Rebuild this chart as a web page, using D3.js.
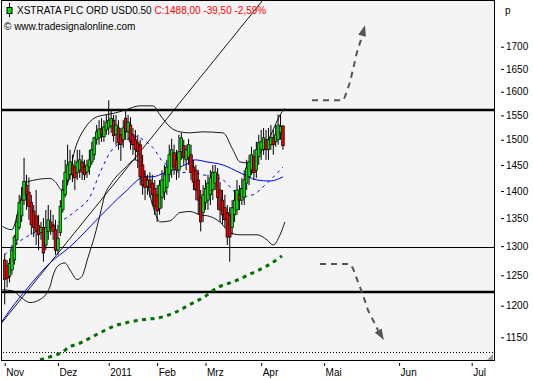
<!DOCTYPE html>
<html>
<head>
<meta charset="utf-8">
<title>XSTRATA PLC</title>
<script src="https://cdn.jsdelivr.net/npm/d3@7"></script>
<style>
body { margin: 0; background: #fff; }
svg { display: block; font-family: "Liberation Sans", Arial, sans-serif; font-size: 10px; }
</style>
</head>
<body>
<script>
// daily candles, index 0 = 1 Nov 2010 (trading days)
var opens = [
  1276,1266,1248,1259,1276,1311,1333,1354,1383,1411,
  1398,1379,1363,1354,1337,1324,1333,1302,1326,1343,
  1337,1329,1293,1324,1365,1393,1421,1431,1450,1446,
  1435,1440,1456,1446,1436,1446,1456,1470,1500,1504,
  1522,1506,1520,1524,1528,1540,1510,1524,1510,1500,
  1544,1516,1530,1510,1500,1494,1490,1450,1427,1409,
  1421,1415,1405,1393,1367,1388,1398,1407,1431,1440,
  1474,1460,1440,1476,1488,1460,1464,1470,1446,1440,
  1421,1388,1360,1378,1383,1393,1402,1415,1431,1402,
  1383,1369,1360,1356,1333,1356,1365,1393,1383,1388,
  1415,1427,1440,1466,1440,1466,1480,1480,1500,1480,
  1490,1504,1496,1500,1514,1528];
var highs = [
  1287,1276,1279,1302,1320,1356,1393,1408,1464,1431,
  1426,1393,1374,1402,1356,1343,1350,1365,1374,1365,
  1356,1347,1338,1383,1421,1460,1490,1480,1470,1460,
  1480,1480,1470,1460,1460,1480,1496,1506,1530,1540,
  1544,1540,1551,1582,1561,1551,1551,1540,1524,1540,
  1561,1551,1546,1524,1520,1510,1500,1470,1440,1431,
  1436,1431,1421,1411,1421,1440,1450,1460,1490,1502,
  1490,1480,1510,1514,1500,1490,1502,1490,1460,1450,
  1440,1402,1411,1421,1431,1440,1450,1450,1444,1417,
  1402,1393,1374,1370,1383,1402,1421,1411,1425,1440,
  1460,1470,1486,1480,1496,1510,1520,1524,1520,1524,
  1530,1520,1530,1552,1552,1530];
var lows = [
  1202,1230,1238,1251,1268,1302,1329,1343,1374,1365,
  1347,1320,1316,1302,1293,1311,1273,1293,1311,1320,
  1311,1285,1285,1318,1360,1388,1411,1421,1417,1402,
  1421,1425,1421,1421,1425,1431,1450,1460,1490,1490,
  1496,1496,1510,1510,1514,1496,1490,1480,1458,1484,
  1500,1500,1480,1470,1460,1444,1411,1393,1383,1393,
  1388,1374,1356,1343,1356,1368,1383,1393,1417,1425,
  1431,1421,1425,1460,1450,1440,1450,1421,1402,1383,
  1356,1326,1343,1365,1365,1374,1383,1402,1365,1343,
  1338,1333,1302,1273,1320,1343,1356,1365,1374,1374,
  1402,1411,1431,1421,1425,1450,1460,1470,1460,1460,
  1480,1470,1486,1490,1500,1480];
var closes = [
  1243,1245,1270,1293,1316,1343,1378,1383,1418,1393,
  1371,1338,1333,1326,1320,1333,1288,1333,1347,1333,
  1326,1293,1314,1371,1402,1436,1450,1456,1431,1425,
  1456,1460,1436,1431,1450,1460,1480,1504,1516,1522,
  1510,1526,1536,1540,1544,1508,1530,1494,1490,1524,
  1516,1536,1496,1490,1480,1476,1427,1411,1407,1421,
  1407,1393,1371,1363,1411,1421,1431,1446,1470,1480,
  1446,1440,1476,1504,1464,1480,1490,1435,1417,1402,
  1383,1343,1393,1405,1415,1425,1436,1436,1388,1365,
  1356,1347,1316,1316,1369,1383,1402,1383,1405,1421,
  1444,1456,1470,1435,1480,1494,1496,1504,1480,1500,
  1504,1490,1510,1530,1527,1488];

// indicator lines: [bar index, price]
var bbUpper = [[-1,1335],[3,1329],[5.5,1362],[8.4,1415],[12.5,1421],[18.7,1424],[20.8,1418],
  [23.7,1402],[25.7,1411],[29,1480],[33.2,1524],[37.3,1545],[41.4,1551],[45.6,1555],[49.7,1561],
  [55.9,1570],[61.3,1570],[64.2,1551],[68.3,1526],[72.4,1516],[76.6,1514],[81.5,1516],[90.2,1514],
  [94.3,1480],[97.2,1456],[100.5,1454],[104.3,1466],[109.6,1506],[113.8,1551],[115.8,1565]];
var bbLower = [[-1,1226],[3.4,1224],[6.3,1215],[10.5,1205],[14.6,1210],[18.7,1231],[20,1250],
  [22,1266],[24.9,1271],[27,1259],[29.9,1243],[31.9,1248],[34.4,1280],[37.3,1320],[39.4,1356],
  [41.4,1393],[43.5,1411],[46.8,1431],[49.7,1444],[53.8,1460],[55.9,1454],[58,1431],[60,1393],
  [62.1,1360],[64.2,1343],[68.3,1345],[72.4,1360],[76.6,1362],[80.7,1356],[84.8,1353],[88.9,1343],
  [93.1,1324],[97.2,1320],[104.3,1320],[108.4,1311],[110.9,1302],[113.8,1320],[115.8,1343]];
var bbMid = [[0,1285],[3.4,1299],[10.5,1320],[18.7,1335],[25.7,1351],[29.9,1365],[35.2,1389],
  [39.4,1435],[43.5,1474],[47.6,1494],[50.5,1500],[54.7,1506],[57.2,1500],[61.3,1484],[65.4,1456],
  [69.5,1444],[72.4,1435],[76.6,1436],[81.9,1431],[90.2,1421],[94.3,1402],[97.2,1389],[102.6,1393],
  [108.4,1415],[115,1446]];
var maLong = [[-2,1170],[2.2,1193],[10.5,1234],[18.7,1271],[27,1299],[39.4,1353],[49.7,1398],
  [58,1427],[60.9,1427],[66.2,1435],[74.5,1450],[78.6,1460],[83.6,1456],[90.2,1450],[97.2,1435],
  [104.3,1421],[109.6,1419],[115,1427]];
var ma200 = [[14.6,1116],[19.5,1121],[23.7,1127],[27,1136],[29.9,1139],[33.2,1145],[39.4,1157],
  [45.6,1168],[51.8,1174],[58,1178],[64.2,1181],[70.4,1189],[76.6,1202],[82.8,1215],[87.7,1229],
  [94.3,1239],[101.4,1252],[108.4,1266],[114.6,1283]];

var trendAnchors = [[2.2,1189],[106.7,1810]];
var levelsThick = [1561,1222];
var levelsThin = [1298];
var dottedLevel = 1128;

var arrowUp = [[127,1582],[139.8,1582],[140.6,1589],[142.7,1621],[144.3,1657],[145.6,1688],[147.2,1715],[148.9,1750]];
var arrowDown = [[130.3,1269],[142.7,1269],[143.9,1262],[146,1239],[148.1,1217],[150.1,1193],[152.6,1174],[154.3,1161],[156.7,1146]];

var monthLabels = ["Nov","Dez","2011","Feb","Mrz","Apr","Mai","Jun","Jul"];
var monthIdx = [0,22,43,63,83,106,132,163,193];
var priceTicks = [1150,1200,1250,1300,1350,1400,1450,1500,1550,1600,1650,1700];

var W = 533, H = 380;
var svg = d3.select("body").append("svg").attr("width", W).attr("height", H);

var x = d3.scaleLinear().domain([0, 193]).range([4.7, 471.7]);
var y = d3.scaleLog().domain([1150, 1700]).range([337.3, 46.7]);

svg.append("rect").attr("x", 1.5).attr("y", 0.5).attr("width", 493).attr("height", 360)
  .attr("fill", "#f4f4f4");

svg.append("clipPath").attr("id", "plot")
  .append("rect").attr("x", 2).attr("y", 1).attr("width", 492).attr("height", 359);

var g = svg.append("g").attr("clip-path", "url(#plot)");

// horizontal levels
g.selectAll(".thick").data(levelsThick).enter().append("line")
  .attr("x1", 0).attr("x2", 495)
  .attr("y1", function(d) { return Math.round(y(d)); })
  .attr("y2", function(d) { return Math.round(y(d)); })
  .attr("stroke", "#000").attr("stroke-width", 2.5);
g.selectAll(".thin").data(levelsThin).enter().append("line")
  .attr("x1", 0).attr("x2", 495)
  .attr("y1", function(d) { return Math.round(y(d)) + 0.5; })
  .attr("y2", function(d) { return Math.round(y(d)) + 0.5; })
  .attr("stroke", "#000").attr("stroke-width", 1);
g.append("line").attr("x1", 3).attr("x2", 494)
  .attr("y1", Math.round(y(dottedLevel)) + 0.5).attr("y2", Math.round(y(dottedLevel)) + 0.5)
  .attr("stroke", "#000").attr("stroke-width", 1).attr("stroke-dasharray", "1,2");

var line = d3.line().x(function(d) { return x(d[0]); }).y(function(d) { return y(d[1]); })
  .curve(d3.curveMonotoneX);

g.append("path").datum(ma200).attr("d", line).attr("fill", "none")
  .attr("stroke", "#007000").attr("stroke-width", 3).attr("stroke-dasharray", "4,4.5");
g.append("path").datum(bbUpper).attr("d", line).attr("fill", "none").attr("stroke", "#000").attr("stroke-width", 0.9);
g.append("path").datum(bbLower).attr("d", line).attr("fill", "none").attr("stroke", "#000").attr("stroke-width", 0.9);
g.append("path").datum(bbMid).attr("d", line).attr("fill", "none")
  .attr("stroke", "#0000ff").attr("stroke-width", 1).attr("stroke-dasharray", "3,4");
g.append("path").datum(maLong).attr("d", line).attr("fill", "none").attr("stroke", "#0000ff").attr("stroke-width", 1);

// trend line, extended over the plot
var a = [x(trendAnchors[0][0]), y(trendAnchors[0][1])];
var b = [x(trendAnchors[1][0]), y(trendAnchors[1][1])];
var k = (b[1] - a[1]) / (b[0] - a[0]);
g.append("line").attr("x1", 0).attr("y1", a[1] + k * (0 - a[0]))
  .attr("x2", 300).attr("y2", a[1] + k * (300 - a[0]))
  .attr("stroke", "#000").attr("stroke-width", 0.9);

// candles
var bw = 2.6;
var idx = d3.range(closes.length);
g.selectAll(".wick").data(idx).enter().append("line")
  .attr("x1", function(i) { return x(i); }).attr("x2", function(i) { return x(i); })
  .attr("y1", function(i) { return y(highs[i]); }).attr("y2", function(i) { return y(lows[i]); })
  .attr("stroke", "#000").attr("stroke-width", 1);
g.selectAll(".body").data(idx).enter().append("rect")
  .attr("x", function(i) { return x(i) - bw / 2; })
  .attr("width", bw)
  .attr("y", function(i) { return y(Math.max(opens[i], closes[i])); })
  .attr("height", function(i) { return Math.max(1, Math.abs(y(opens[i]) - y(closes[i]))); })
  .attr("fill", function(i) { return closes[i] >= opens[i] ? "#00e400" : "#ee0000"; })
  .attr("stroke", "#000").attr("stroke-width", 0.7);

// projection arrows
function arrow(pts) {
  var px = pts.map(function(d) { return [x(d[0]), y(d[1])]; });
  var tip = px[px.length - 1], prev = px[px.length - 2];
  var dx = tip[0] - prev[0], dy = tip[1] - prev[1], len = Math.sqrt(dx * dx + dy * dy);
  var ux = dx / len, uy = dy / len, L = 11, hw = 4;
  var base = [tip[0] - ux * L, tip[1] - uy * L];
  g.append("path").datum(px.slice(0, -1).concat([base]))
    .attr("d", d3.line().curve(d3.curveLinear)).attr("fill", "none")
    .attr("stroke", "#555").attr("stroke-width", 2).attr("stroke-dasharray", "6,5");
  g.append("path").attr("d", "M" + tip + "L" + [base[0] - uy * hw, base[1] + ux * hw] +
      "L" + [base[0] + uy * hw, base[1] - ux * hw] + "Z").attr("fill", "#555");
}
arrow(arrowUp);
arrow(arrowDown);

// frame
svg.append("rect").attr("x", 1.5).attr("y", 0.5).attr("width", 493).attr("height", 360)
  .attr("fill", "none").attr("stroke", "#000");

// resize grip
svg.append("path").attr("d", "M493,354L493,360L487,360Z").attr("fill", "#999");

// price axis
var ya = svg.append("g").attr("transform", "translate(501,0)")
  .call(d3.axisRight(y).tickValues(priceTicks).tickFormat(d3.format("d")).tickSize(3).tickPadding(2));
ya.select(".domain").remove();
ya.selectAll("text").attr("font-size", 10).attr("font-family", "Liberation Sans, Arial").attr("fill", "#000");
svg.append("text").attr("x", 505).attr("y", 14).text("p");

// time axis
var xa = svg.append("g").attr("transform", "translate(0,363)")
  .call(d3.axisBottom(x).tickValues(monthIdx).tickFormat(function(d, i) { return monthLabels[i]; })
    .tickSize(3).tickPadding(3));
xa.select(".domain").remove();
xa.selectAll("text").attr("text-anchor", "start").attr("x", 1)
  .attr("font-size", 10).attr("font-family", "Liberation Sans, Arial").attr("fill", "#000");

// title
svg.append("line").attr("x1", 9.5).attr("x2", 9.5).attr("y1", 3).attr("y2", 17).attr("stroke", "#000");
svg.append("rect").attr("x", 7).attr("y", 7.5).attr("width", 5).attr("height", 6)
  .attr("fill", "#00e400").attr("stroke", "#000");
var t = svg.append("text").attr("x", 17).attr("y", 14);
t.append("tspan").text("XSTRATA PLC ORD USD0.50 ");
t.append("tspan").attr("fill", "#ff0000").text("C:1488,00 -39,50 -2,59%");
svg.append("text").attr("x", 4).attr("y", 30).text("\u00a9 www.tradesignalonline.com");
</script>
</body>
</html>
